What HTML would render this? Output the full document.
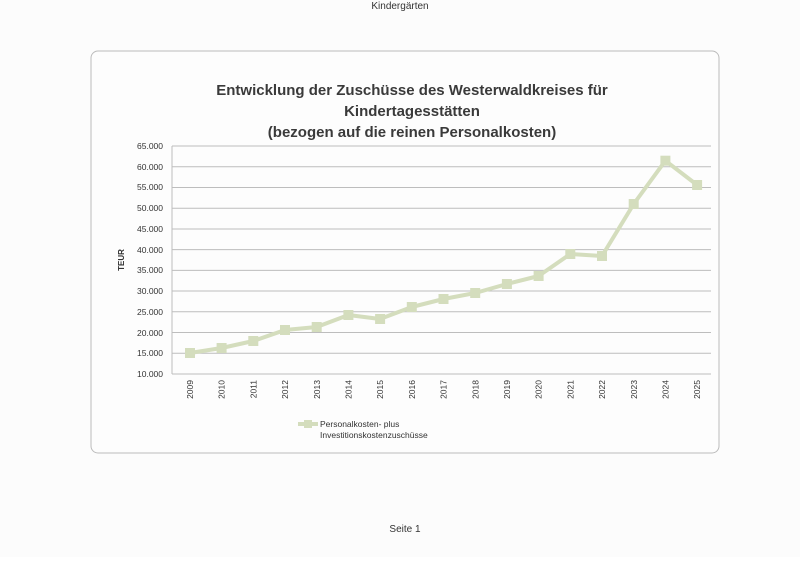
<!DOCTYPE html>
<html><head><meta charset="utf-8"><style>
body{margin:0;background:#fff;width:800px;height:557px;overflow:hidden;font-family:"Liberation Sans",sans-serif}
</style></head><body>
<svg width="800" height="557" xmlns="http://www.w3.org/2000/svg" font-family="Liberation Sans, sans-serif">
<rect width="800" height="557" fill="#fcfcfc"/>
<text x="400" y="9" font-size="10" text-anchor="middle" fill="#333">Kindergärten</text>
<rect x="91" y="51" width="628" height="402" rx="7" fill="#fdfdfd" stroke="#bbb" stroke-width="1"/>
<g font-weight="bold" font-size="15" fill="#3a3a3a" text-anchor="middle">
<text x="412" y="95">Entwicklung der Zuschüsse des Westerwaldkreises für</text>
<text x="412" y="116">Kindertagesstätten</text>
<text x="412" y="137">(bezogen auf die reinen Personalkosten)</text>
</g>
<g stroke="#bdbdbd" stroke-width="1">
<line x1="172" x2="711" y1="146" y2="146"/><line x1="172" x2="711" y1="166.7" y2="166.7"/>
<line x1="172" x2="711" y1="187.5" y2="187.5"/><line x1="172" x2="711" y1="208.2" y2="208.2"/>
<line x1="172" x2="711" y1="229" y2="229"/><line x1="172" x2="711" y1="249.6" y2="249.6"/>
<line x1="172" x2="711" y1="270.4" y2="270.4"/><line x1="172" x2="711" y1="291" y2="291"/>
<line x1="172" x2="711" y1="311.8" y2="311.8"/><line x1="172" x2="711" y1="332.5" y2="332.5"/>
<line x1="172" x2="711" y1="353.3" y2="353.3"/><line x1="172" x2="711" y1="374" y2="374"/>
<line x1="172" x2="172" y1="146" y2="374"/>
</g>
<g font-size="8.5" fill="#333" text-anchor="end">
<text x="163" y="149">65.000</text><text x="163" y="170">60.000</text><text x="163" y="190">55.000</text>
<text x="163" y="211">50.000</text><text x="163" y="232">45.000</text><text x="163" y="253">40.000</text>
<text x="163" y="273">35.000</text><text x="163" y="294">30.000</text><text x="163" y="315">25.000</text>
<text x="163" y="336">20.000</text><text x="163" y="356">15.000</text><text x="163" y="377">10.000</text>
</g>
<text transform="translate(124,260) rotate(-90)" font-size="8" font-weight="bold" fill="#333" text-anchor="middle">TEUR</text>
<g font-size="8.5" fill="#333" text-anchor="end">
<text transform="translate(193,380) rotate(-90)">2009</text><text transform="translate(224.7,380) rotate(-90)">2010</text>
<text transform="translate(256.4,380) rotate(-90)">2011</text><text transform="translate(288.1,380) rotate(-90)">2012</text>
<text transform="translate(319.8,380) rotate(-90)">2013</text><text transform="translate(351.5,380) rotate(-90)">2014</text>
<text transform="translate(383.2,380) rotate(-90)">2015</text><text transform="translate(414.9,380) rotate(-90)">2016</text>
<text transform="translate(446.6,380) rotate(-90)">2017</text><text transform="translate(478.3,380) rotate(-90)">2018</text>
<text transform="translate(510,380) rotate(-90)">2019</text><text transform="translate(541.7,380) rotate(-90)">2020</text>
<text transform="translate(573.4,380) rotate(-90)">2021</text><text transform="translate(605.1,380) rotate(-90)">2022</text>
<text transform="translate(636.8,380) rotate(-90)">2023</text><text transform="translate(668.5,380) rotate(-90)">2024</text>
<text transform="translate(700.2,380) rotate(-90)">2025</text>
</g>
<polyline fill="none" stroke="#d4ddbd" stroke-width="4" stroke-linejoin="round"
points="189.9,353 221.6,348 253.3,341 285,330 316.7,327 348.4,315 380.1,319 411.8,307 443.5,299 475.2,293 506.9,284 538.6,276 570.3,254 602,256 633.7,204 665.4,160.7 697.1,185"/>
<g fill="#d4ddbd">
<rect x="185" y="348" width="10" height="10"/><rect x="216.6" y="343" width="10" height="10"/>
<rect x="248.3" y="336" width="10" height="10"/><rect x="280" y="325" width="10" height="10"/>
<rect x="311.7" y="322" width="10" height="10"/><rect x="343.4" y="310" width="10" height="10"/>
<rect x="375.1" y="314" width="10" height="10"/><rect x="406.8" y="302" width="10" height="10"/>
<rect x="438.5" y="294" width="10" height="10"/><rect x="470.2" y="288" width="10" height="10"/>
<rect x="501.9" y="279" width="10" height="10"/><rect x="533.6" y="271" width="10" height="10"/>
<rect x="565.3" y="249" width="10" height="10"/><rect x="597" y="251" width="10" height="10"/>
<rect x="628.7" y="199" width="10" height="10"/><rect x="660.4" y="155.7" width="10" height="10"/>
<rect x="692.1" y="180" width="10" height="10"/>
</g>
<line x1="298" x2="318" y1="424" y2="424" stroke="#d4ddbd" stroke-width="4"/>
<rect x="304" y="420" width="8" height="8" fill="#d4ddbd"/>
<text x="320" y="427" font-size="8.5" fill="#333">Personalkosten- plus</text>
<text x="320" y="438" font-size="8.5" fill="#333">Investitionskostenzuschüsse</text>
<text x="405" y="532" font-size="10" text-anchor="middle" fill="#333">Seite 1</text>
</svg>
</body></html>
